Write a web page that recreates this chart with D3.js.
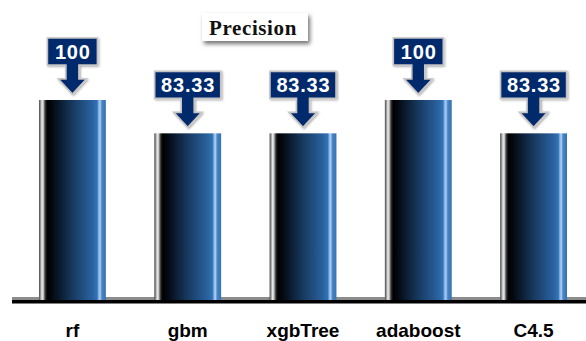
<!DOCTYPE html>
<html>
<head>
<meta charset="utf-8">
<script src="https://cdn.jsdelivr.net/npm/d3@7"></script>
<style>
  html, body { margin: 0; padding: 0; background: #fff; }
  svg { display: block; }
</style>
</head>
<body>
<svg id="chart" width="586" height="341"></svg>
<script>
// Precision per model
const categories = ["rf", "gbm", "xgbTree", "adaboost", "C4.5"];
const precision = [100, 83.33, 83.33, 100, 83.33];
const valueLabels = ["100", "83.33", "83.33", "100", "83.33"];
const chartTitle = "Precision";

const W = 586, H = 341;
const svg = d3.select("#chart");
const defs = svg.append("defs");

// Cylinder-like horizontal gradient for the bars
const grad = defs.append("linearGradient")
  .attr("id", "barGrad").attr("x1", "0%").attr("x2", "100%").attr("y1", "0%").attr("y2", "0%");
[
  [0, "#4a4a4a"], [2, "#8a8a8a"], [4.5, "#ececec"], [6.5, "#c8c8c8"], [8.5, "#5a5a5a"],
  [10.5, "#1a1a1a"], [13, "#000000"], [22, "#050d18"], [50, "#17395f"],
  [80, "#2a62a0"], [87, "#3274b8"], [89.5, "#8fbbe8"], [91.5, "#a9cdf0"],
  [94, "#4a86c6"], [100, "#3570b2"]
].forEach(([o, c]) => grad.append("stop").attr("offset", o + "%").attr("stop-color", c));

// Soft drop shadows for the title and callouts
const sh = defs.append("filter").attr("id", "shadow")
  .attr("x", "-20%").attr("y", "-30%").attr("width", "150%").attr("height", "180%");
sh.append("feDropShadow").attr("dx", 2).attr("dy", 3).attr("stdDeviation", 2)
  .attr("flood-color", "#000").attr("flood-opacity", 0.55);

const sh2 = defs.append("filter").attr("id", "shadow2")
  .attr("x", "-20%").attr("y", "-20%").attr("width", "150%").attr("height", "150%");
sh2.append("feDropShadow").attr("dx", 1).attr("dy", 1).attr("stdDeviation", 1)
  .attr("flood-color", "#000").attr("flood-opacity", 0.35);

const x = d3.scaleBand().domain(categories).range([15, 591])
  .paddingInner(0.42).paddingOuter(0.208);
const y = d3.scaleLinear().domain([0, 100]).range([300, 100]);

// Baseline (grey) under the bars
svg.append("rect").attr("x", 12).attr("y", 297).attr("width", W - 12).attr("height", 3).attr("fill", "#8c8c8c");

// Bars
svg.append("g").selectAll("rect").data(precision).join("rect")
  .attr("x", (d, i) => x(categories[i]))
  .attr("y", d => y(d))
  .attr("width", x.bandwidth())
  .attr("height", d => y(0) - y(d))
  .attr("fill", "url(#barGrad)");

// Black axis line
svg.append("rect").attr("x", 12).attr("y", 300).attr("width", W - 12).attr("height", 3.5).attr("fill", "#000");

// Category axis labels
const xAxis = d3.axisBottom(x).tickSize(0).tickPadding(0);
const gx = svg.append("g").attr("transform", "translate(0,303)").call(xAxis);
gx.select(".domain").remove();
gx.selectAll("text")
  .attr("dy", 0).attr("y", 34)
  .attr("font-family", "'Liberation Sans', Arial, sans-serif")
  .attr("font-weight", "bold").attr("font-size", 19).attr("fill", "#000");

// Value callouts (box with downward arrow)
const callouts = svg.append("g").selectAll("g").data(precision).join("g")
  .attr("transform", (d, i) => `translate(${x(categories[i]) + x.bandwidth() / 2},${y(d)})`);

callouts.each(function (d, i) {
  const g = d3.select(this);
  const t = g.append("text").text(valueLabels[i])
    .attr("font-family", "'Liberation Sans', Arial, sans-serif")
    .attr("font-weight", "bold").attr("font-size", 20)
    .attr("letter-spacing", 0.8)
    .attr("fill", "#fff").attr("text-anchor", "middle");
  const tw = t.node().getComputedTextLength();
  const bw = Math.max(tw + 12, 50), half = bw / 2;
  const top = -62, boxBot = -35, stemBot = -21, tip = -6, sw = 6.5, hw = 14;
  const path = [
    [-half, top], [half, top], [half, boxBot], [sw, boxBot], [sw, stemBot], [hw, stemBot],
    [0, tip], [-hw, stemBot], [-sw, stemBot], [-sw, boxBot], [-half, boxBot]
  ];
  g.insert("path", "text")
    .attr("d", d3.line()(path) + "Z")
    .attr("fill", "#062a6c").attr("stroke", "#c4c4c4").attr("stroke-width", 1.6)
    .attr("stroke-linejoin", "miter")
    .attr("filter", "url(#shadow2)");
  t.attr("x", 0.4).attr("y", -41.5);
});

// Title box
const tg = svg.append("g");
tg.append("rect").attr("x", 202).attr("y", 13).attr("width", 106).attr("height", 28)
  .attr("fill", "#fff").attr("filter", "url(#shadow)");
tg.append("text").text(chartTitle)
  .attr("x", 253).attr("y", 35)
  .attr("text-anchor", "middle")
  .attr("font-family", "'Liberation Serif', 'Times New Roman', serif")
  .attr("font-weight", "bold").attr("font-size", 21).attr("letter-spacing", 0.6)
  .attr("fill", "#111");
</script>
</body>
</html>
